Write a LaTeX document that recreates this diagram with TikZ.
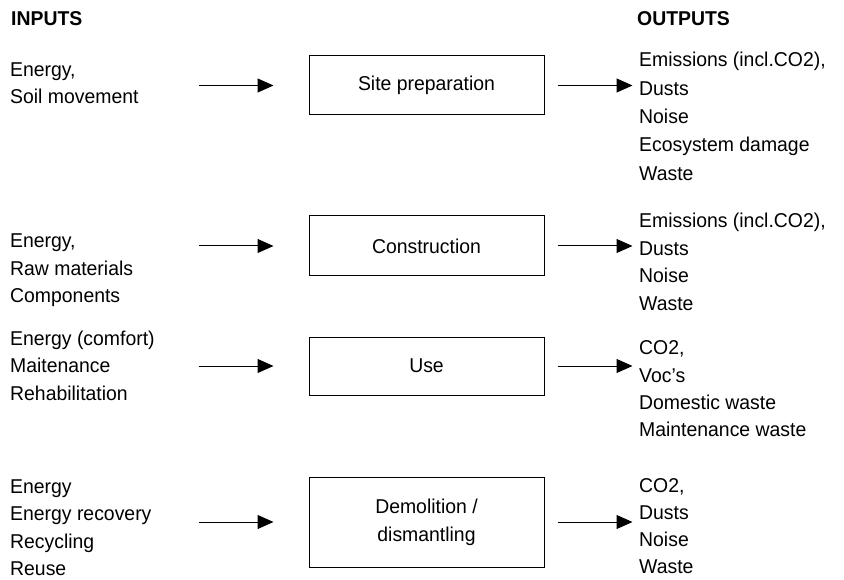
\documentclass[tikz,border=0pt]{standalone}
\usepackage{fontspec}
\setmainfont{Liberation Sans}[FakeStretch=0.97]
\usetikzlibrary{arrows.meta}
\newcommand\txtgroup[5]{%
  \foreach \t [count=\k] in {#5} \node[lbl] (#1-\k) at (#2,{#3+#4*(\k-1)}) {\t};}
\begin{document}
\begin{tikzpicture}[x=1pt,y=-1pt,
  lbl/.style={anchor=base west,inner sep=0pt,font=\fontsize{20}{24}\selectfont},
  head/.style={anchor=base west,inner sep=0pt,font=\fontsize{20}{24}\selectfont\bfseries},
  stage/.style={draw,line width=1pt,minimum width=235pt,inner sep=0pt,align=center,
    font=\fontsize{20}{28}\selectfont},
  flow/.style={line width=1pt,-{Triangle[length=16pt,width=14pt]}}]
\useasboundingbox (0,0) rectangle (844,580);
\node[head] (inputs) at (11,26) {INPUTS};
\node[head] (outputs) at (637,26) {OUTPUTS};
% stages
\node[stage,minimum height=59pt] (b1) at (426.5,85.5) {Site preparation};
\node[stage,minimum height=60pt] (b2) at (426.5,246) {Construction};
\node[stage,minimum height=58pt] (b3) at (426.5,366) {Use};
\node[stage,minimum height=90pt] (b4) at (426.5,522) {Demolition /\\dismantling};
% inputs
\txtgroup{inA}{10}{76.5}{27.5}{{Energy,},{Soil movement}}
\txtgroup{inB}{10}{248}{27.5}{{Energy,},{Raw materials},{Components}}
\txtgroup{inC}{10}{345}{27.5}{{Energy (comfort)},{Maitenance},{Rehabilitation}}
\txtgroup{inD}{10}{493}{27.5}{{Energy},{Energy recovery},{Recycling},{Reuse}}
% outputs
\txtgroup{outA}{639}{67}{28.3}{{Emissions (incl.CO2),},{Dusts},{Noise},{Ecosystem damage},{Waste}}
\txtgroup{outB}{639}{228}{27.5}{{Emissions (incl.CO2),},{Dusts},{Noise},{Waste}}
\txtgroup{outC}{639}{355}{27}{{CO2,},{Voc’s},{Domestic waste},{Maintenance waste}}
\txtgroup{outD}{639}{492}{27}{{CO2,},{Dusts},{Noise},{Waste}}
% arrows
\foreach \b in {b1,b2,b3,b4}{
  \draw[flow] ([xshift=-110pt]\b.west) -- ([xshift=-35pt]\b.west);
  \draw[flow] ([xshift=13pt]\b.east) -- ([xshift=88pt]\b.east);
}
\end{tikzpicture}
\end{document}
